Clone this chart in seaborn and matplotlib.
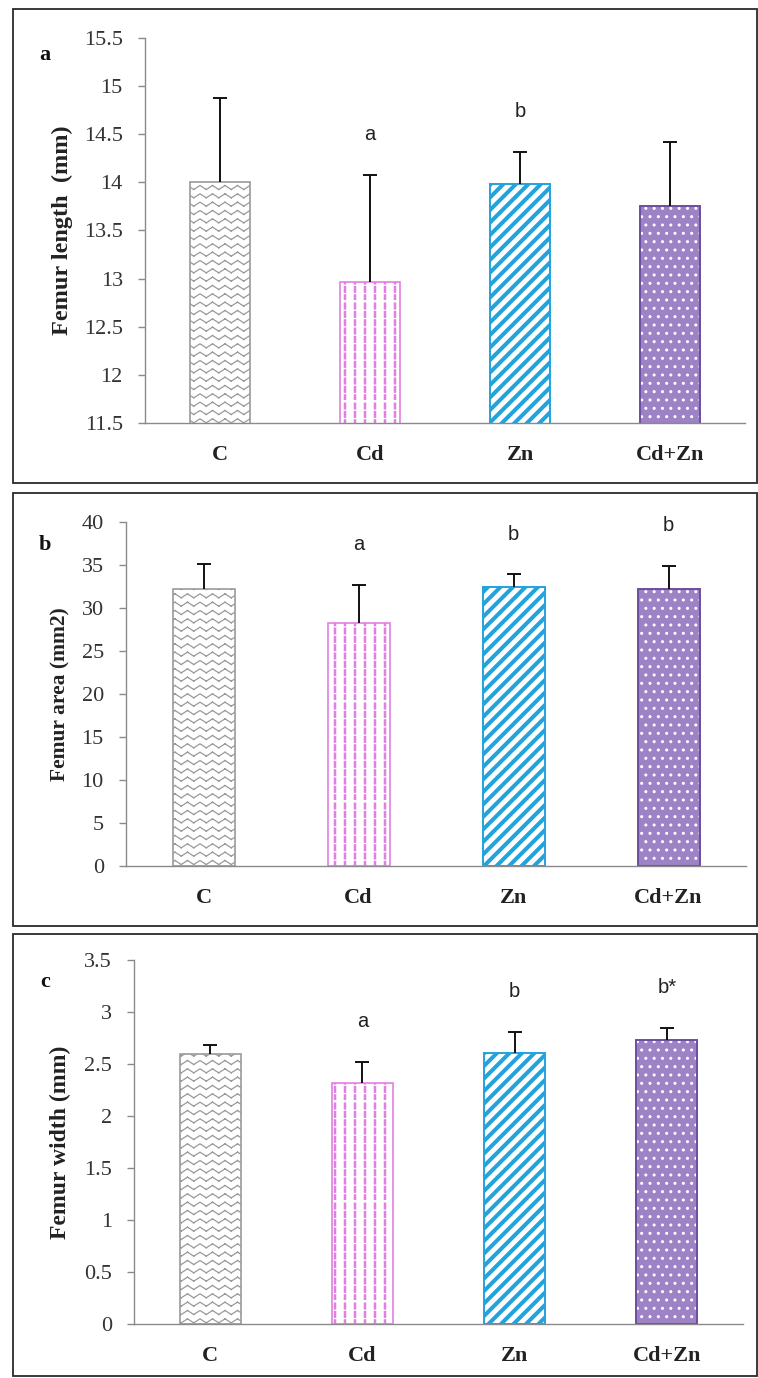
"""
Femur length / area / width bar charts (three stacked panels, Excel look)
"""

import warnings
import numpy as np
import matplotlib
matplotlib.use("Agg")
import matplotlib.pyplot as plt
import matplotlib.hatch as mhatch
from matplotlib.path import Path
from matplotlib.patches import Rectangle
import seaborn as sns

warnings.filterwarnings("ignore")

# Data
groups = ["C", "Cd", "Zn", "Cd+Zn"]

length_mean = [14.00, 12.96, 13.98, 13.75]
length_sd = [0.88, 1.12, 0.34, 0.67]
length_marks = ["", "a", "b", ""]

area_mean = [32.2, 28.3, 32.4, 32.2]
area_sd = [2.9, 4.4, 1.5, 2.7]
area_marks = ["", "a", "b", "b"]

width_mean = [2.60, 2.32, 2.61, 2.73]
width_sd = [0.08, 0.20, 0.20, 0.12]
width_marks = ["", "a", "b", "b*"]


class ExcelHatch(mhatch.HatchPatternBase):
    """Extra hatches: z = zigzag, d = dashed columns, s = wide diagonal stripes"""

    def __init__(self, hatch, density):
        self.segs = []
        if "z" in hatch:
            # zigzag rows, built from separate two-point segments so Agg does not fill them
            rows, per = 12, 8
            xs = np.linspace(0, 1, 2 * per + 1)
            amp = np.where(np.arange(2 * per + 1) % 2 == 0, 0.02, -0.02)
            for i in range(rows):
                ys = (i + 0.5) / rows + amp
                for k in range(2 * per):
                    self.segs.append(np.array([[xs[k], ys[k]], [xs[k + 1], ys[k + 1]]]))
        if "d" in hatch:
            cols, rows = 10, 12
            for j in range(cols):
                x = (j + 0.5) / cols
                for k in range(rows):
                    y0 = k / rows
                    self.segs.append(np.array([[x, y0], [x, y0 + 0.55 / rows]]))
        if "s" in hatch:
            n = 8
            for k in range(-n, n + 1):
                self.segs.append(np.array([[0.0, k / n], [1.0, k / n + 1.0]]))
        self.num_vertices = sum(len(s) for s in self.segs)

    def set_vertices_and_codes(self, vertices, codes):
        i = 0
        for s in self.segs:
            vertices[i:i + len(s)] = s
            codes[i] = Path.MOVETO
            codes[i + 1:i + len(s)] = Path.LINETO
            i += len(s)


mhatch._hatch_types.append(ExcelHatch)

sns.set_theme(style="white")
plt.rcParams["font.family"] = ["Liberation Serif", "DejaVu Serif"]
plt.rcParams["hatch.linewidth"] = 1.0

W, H = 758, 1378
GRAY = "#8a8a8a"

bar_styles = [
    dict(face="white", edge="#9a9a9a", hatch="z", hlw=0.9, lw=1.2),
    dict(face="white", edge="#e27fe2", hatch="d", hlw=1.8, lw=1.2),
    dict(face="white", edge="#22a3dc", hatch="s", hlw=2.9, lw=1.4),
    dict(face="#9d82c6", edge="white", hatch="..", hlw=1.0, lw=0, border="#6b4f9e"),
]


def px_axes(fig, left, right, top, bottom):
    return fig.add_axes([left / W, 1 - bottom / H, (right - left) / W, (bottom - top) / H])


def draw_panel(ax, means, sds, marks, ylim, step, ylabel, label_px, label_size):
    sns.barplot(x=groups, y=means, ax=ax, width=0.4, errorbar=None,
                color="white", saturation=1)

    for p, st in zip(ax.patches, bar_styles):
        p.set_facecolor(st["face"])
        p.set_edgecolor(st["edge"])
        p.set_linewidth(st["lw"])
        p.set_hatch(st["hatch"])
        if hasattr(p, "set_hatch_linewidth"):
            p.set_hatch_linewidth(st["hlw"])
        if "border" in st:
            ax.add_patch(Rectangle((p.get_x(), p.get_y()), p.get_width(), p.get_height(),
                                   fill=False, edgecolor=st["border"], linewidth=1.4))

    # upper-only error bars, Excel style
    xs = [p.get_x() + p.get_width() / 2 for p in ax.patches[:len(groups)]]
    eb = ax.errorbar(xs, means, yerr=[np.zeros(len(sds)), sds], fmt="none",
                     ecolor="#111111", elinewidth=1.4, capsize=5, capthick=1.4)
    for cl in eb[1]:
        if np.allclose(cl.get_ydata(), means):
            cl.set_visible(False)

    # significance letters
    for x, m, s, mark in zip(xs, means, sds, marks):
        if mark:
            ax.annotate(mark, (x, m + s), xytext=(0, 29), textcoords="offset points",
                        ha="center", va="center", fontsize=14.5, color="#222222",
                        family=["Liberation Sans", "DejaVu Sans"])

    ax.set_xlim(-0.5, len(groups) - 0.5)
    ax.set_ylim(*ylim)
    ticks = np.arange(ylim[0], ylim[1] + step / 2, step)
    ax.set_yticks(ticks)
    ax.set_yticklabels([f"{t:g}" for t in ticks], fontsize=16, color="#333333")
    ax.set_xticks(range(len(groups)))
    ax.set_xticklabels(groups, fontsize=16, fontweight="bold", color="#222222")
    ax.set_xticks(np.arange(-0.5, len(groups)), minor=True)
    ax.tick_params(axis="x", which="major", length=0, pad=16)
    ax.tick_params(axis="x", which="minor", length=6, width=1, color=GRAY, direction="out")
    ax.tick_params(axis="y", which="major", length=5, width=1, color=GRAY,
                   direction="out", left=True, pad=11)

    for side in ["top", "right"]:
        ax.spines[side].set_visible(False)
    for side in ["left", "bottom"]:
        ax.spines[side].set_color(GRAY)
        ax.spines[side].set_linewidth(1.0)

    ax.set_xlabel("")
    ax.set_ylabel(ylabel, fontsize=label_size, fontweight="bold", color="#222222")
    ax.yaxis.label.set_va("center")
    l, r = ax.get_position().x0 * W, ax.get_position().x1 * W
    ax.yaxis.set_label_coords((label_px - l) / (r - l), 0.5)
    ax.patch.set_alpha(0)


fig = plt.figure(figsize=(W / 100, H / 100), dpi=100)

# panel frames
for y0, y1 in [(9, 483), (493, 926), (934, 1376)]:
    fig.add_artist(Rectangle((13 / W, 1 - y1 / H), 744 / W, (y1 - y0) / H,
                             transform=fig.transFigure, fill=False,
                             edgecolor="#2a2a2a", linewidth=1.3))

ax_a = px_axes(fig, 145, 745, 38, 423)
draw_panel(ax_a, length_mean, length_sd, length_marks, (11.5, 15.5), 0.5,
           "Femur length  (mm)", 62, 17.5)

ax_b = px_axes(fig, 126, 746, 522, 866)
draw_panel(ax_b, area_mean, area_sd, area_marks, (0, 40), 5,
           "Femur area (mm2)", 60, 15.5)

ax_c = px_axes(fig, 134, 743, 960, 1324)
draw_panel(ax_c, width_mean, width_sd, width_marks, (0, 3.5), 0.5,
           "Femur width (mm)", 60, 17)

for tag, ty in [("a", 55), ("b", 545), ("c", 982)]:
    fig.text(45 / W, 1 - ty / H, tag, fontsize=16, fontweight="bold",
             ha="center", va="center", color="#111111")

fig.savefig("out.png", dpi=100)
plt.close(fig)
